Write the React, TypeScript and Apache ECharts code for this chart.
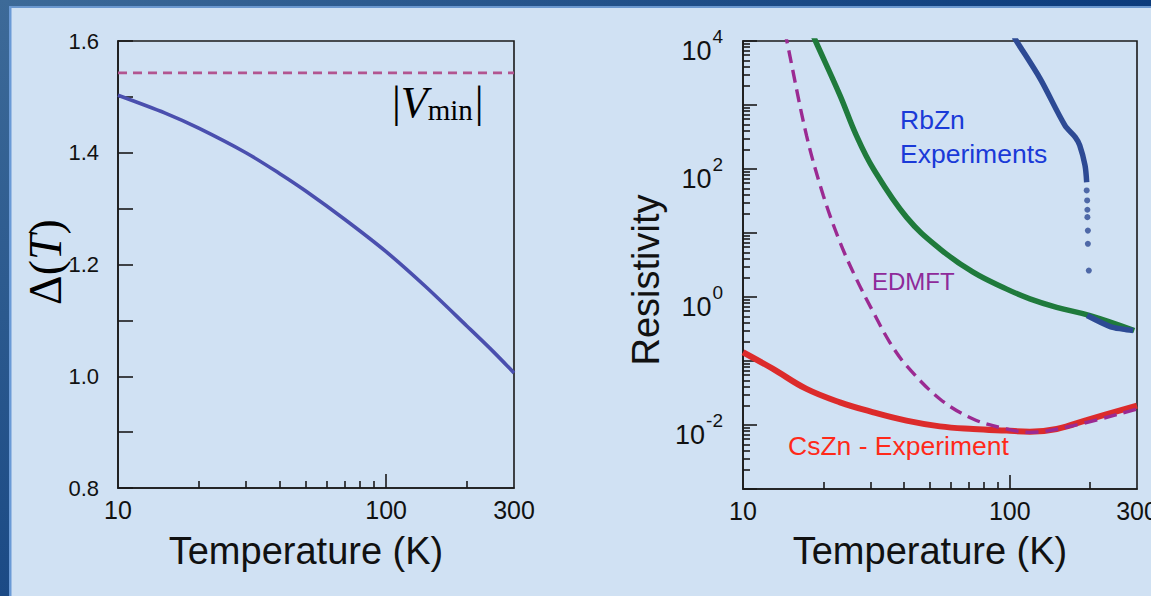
import React, { useEffect, useRef } from "react";
import * as echarts from "echarts";

// ---------- data ----------
// Left panel: gap Delta(T)
const gapT = [10, 15, 20, 30, 40, 50, 70, 100, 140, 200, 250, 300];
const gapDelta = [1.503, 1.471, 1.444, 1.4, 1.363, 1.332, 1.281, 1.223, 1.161, 1.09, 1.045, 1.006];
const vMinT = [10, 300];
const vMinValue = 1.543;

// Right panel: resistivity
const edmftT = [14.3, 14.6, 17.3, 20, 23.1, 26.6, 30.8, 35.5, 41, 54.7, 72.9, 97, 119, 173, 300];
const edmftR = [14500, 10000, 335, 38.6, 7.19, 1.92, 0.578, 0.196, 0.0847, 0.0255, 0.0124, 0.00867, 0.00767, 0.00977, 0.0178];

const rbGreenT = [18.4, 18.7, 23.1, 26.6, 30.8, 41, 54.7, 72.9, 97, 119, 150, 200, 293];
const rbGreenR = [11700, 10000, 1416, 335, 101, 17.7, 5.66, 2.44, 1.34, 0.936, 0.69, 0.513, 0.3];

const rbBlueT = [104, 106, 130, 161, 176, 183, 191.5, 194.3];
const rbBlueR = [11500, 10000, 2580, 481, 315, 234, 114, 62];
const rbBlueDotT = [194.3, 195.1, 195.5, 195.5, 196.3, 196.3, 197.9];
const rbBlueDotR = [46.2, 32.3, 23.1, 17.7, 10.9, 6.78, 2.59];
const rbBlueLowT = [195, 238, 265, 290];
const rbBlueLowR = [0.513, 0.345, 0.315, 0.299];

const csT = [10, 12.96, 17.3, 23.1, 30.8, 41, 54.7, 72.9, 97.2, 119, 150, 200, 300];
const csR = [0.137, 0.0752, 0.0366, 0.0226, 0.0158, 0.0117, 0.00952, 0.00867, 0.00817, 0.00787, 0.00867, 0.0124, 0.02];

// tick labels / positions
const leftXLabels = [10, 100, 300];
const leftYLabels = [0.8, 1.0, 1.2, 1.4, 1.6];
const xMajorTicks = [100];
const xMinorTicks = [20, 30, 40, 50, 60, 70, 80, 90, 200];
const rightYLabels = [0.01, 1, 100, 10000];
const rightYMajor = [0.001, 0.01, 0.1, 1, 10, 100, 1000, 10000];
const rightYMinor: number[] = [];
for (const d of [0.001, 0.01, 0.1, 1, 10, 100, 1000]) {
  for (const m of [2, 3, 4, 5, 6, 7, 8, 9]) rightYMinor.push(+(m * d).toPrecision(3));
}

const zip = (a: number[], b: number[]) => a.map((v, i) => [v, b[i]]);

const SANS = "'Liberation Sans', Arial, sans-serif";
const SERIF = "'Liberation Serif', 'Times New Roman', serif";
const INK = "#1a1a1a";
const BG = "#d0e1f3";

const lineStyle = { color: INK, width: 1.6 };

function majorX(grid: number) {
  return {
    gridIndex: grid,
    type: "log",
    logBase: 10,
    min: 10,
    max: 300,
    position: "bottom",
    axisLine: { show: true, onZero: false, lineStyle },
    axisTick: { show: true, inside: true, length: 14, customValues: xMajorTicks, lineStyle },
    axisLabel: {
      show: true,
      customValues: leftXLabels,
      formatter: (v: number) => String(Math.round(v)),
      margin: 9,
      fontSize: 25,
      fontFamily: SANS,
      color: "#111",
    },
    splitLine: { show: false },
    minorTick: { show: false },
  };
}
function minorX(grid: number) {
  return {
    gridIndex: grid,
    type: "log",
    logBase: 10,
    min: 10,
    max: 300,
    position: "bottom",
    axisLine: { show: false, onZero: false },
    axisTick: { show: true, inside: true, length: 7, customValues: xMinorTicks, lineStyle },
    axisLabel: { show: false },
    splitLine: { show: false },
  };
}

const option: any = {
  animation: false,
  backgroundColor: BG,
  grid: [
    { left: 118, top: 41, width: 396, height: 447, show: true, borderColor: INK, borderWidth: 1.6, backgroundColor: "transparent", containLabel: false, outerBoundsMode: "none" },
    { left: 743, top: 41, width: 394, height: 448, show: true, borderColor: INK, borderWidth: 1.6, backgroundColor: "transparent", containLabel: false, outerBoundsMode: "none" },
  ],
  xAxis: [majorX(0), minorX(0), majorX(1), minorX(1)],
  yAxis: [
    {
      gridIndex: 0,
      type: "value",
      position: "left",
      min: 0.8,
      max: 1.6,
      interval: 0.1,
      axisLine: { show: true, onZero: false, lineStyle },
      axisTick: { show: true, inside: true, length: 15, lineStyle },
      axisLabel: {
        customValues: leftYLabels,
        formatter: (v: number) => v.toFixed(1),
        margin: 19,
        fontSize: 22,
        fontFamily: SANS,
        color: "#111",
      },
      splitLine: { show: false },
    },
    {
      gridIndex: 1,
      type: "log",
      position: "left",
      logBase: 10,
      min: 0.001,
      max: 10000,
      axisLine: { show: true, onZero: false, lineStyle },
      axisTick: { show: true, inside: true, length: 14, customValues: rightYMajor, lineStyle },
      axisLabel: {
        customValues: rightYLabels,
        formatter: (v: number) => `{b|10}{s|${Math.round(Math.log10(v))}}`,
        margin: 20,
        padding: [9, 0, 0, 0],
        rich: {
          b: { fontSize: 27, verticalAlign: "bottom", fontFamily: SANS, color: "#111" },
          s: { fontSize: 19, verticalAlign: "top", padding: [0, 0, 18, 1], fontFamily: SANS, color: "#111" },
        },
      },
      splitLine: { show: false },
    },
    {
      gridIndex: 1,
      type: "log",
      position: "left",
      logBase: 10,
      min: 0.001,
      max: 10000,
      axisLine: { show: false, onZero: false },
      axisTick: { show: true, inside: true, length: 7, customValues: rightYMinor, lineStyle },
      axisLabel: { show: false },
      splitLine: { show: false },
    },
  ],
  series: [
    {
      type: "line",
      xAxisIndex: 0,
      yAxisIndex: 0,
      data: zip(vMinT, vMinT.map(() => vMinValue)),
      showSymbol: false,
      lineStyle: { color: "#b25590", width: 2.6, type: [9, 6] },
      z: 3,
    },
    {
      type: "line",
      xAxisIndex: 0,
      yAxisIndex: 0,
      data: zip(gapT, gapDelta),
      smooth: 0.3,
      showSymbol: false,
      lineStyle: { color: "#4a4fae", width: 3.6 },
      z: 4,
    },
    {
      type: "line",
      xAxisIndex: 2,
      yAxisIndex: 1,
      data: zip(csT, csR),
      smooth: 0.4,
      showSymbol: false,
      lineStyle: { color: "#dc2b2b", width: 6 },
      z: 3,
    },
    {
      type: "line",
      xAxisIndex: 2,
      yAxisIndex: 1,
      data: zip(rbGreenT, rbGreenR),
      smooth: 0.4,
      showSymbol: false,
      lineStyle: { color: "#1f7a3c", width: 5.5 },
      z: 3,
    },
    {
      type: "line",
      xAxisIndex: 2,
      yAxisIndex: 1,
      data: zip(rbBlueT, rbBlueR),
      smooth: 0.3,
      showSymbol: false,
      lineStyle: { color: "#2d4a94", width: 5.5 },
      z: 4,
    },
    {
      type: "line",
      xAxisIndex: 2,
      yAxisIndex: 1,
      data: zip(rbBlueLowT, rbBlueLowR),
      smooth: 0.3,
      showSymbol: false,
      lineStyle: { color: "#2d4a94", width: 5.5 },
      z: 4,
    },
    {
      type: "scatter",
      xAxisIndex: 2,
      yAxisIndex: 1,
      data: zip(rbBlueDotT, rbBlueDotR),
      symbolSize: 6,
      itemStyle: { color: "#2d4a94" },
      z: 4,
    },
    {
      type: "line",
      xAxisIndex: 2,
      yAxisIndex: 1,
      data: zip(edmftT, edmftR),
      smooth: 0.35,
      showSymbol: false,
      lineStyle: { color: "#9b2a92", width: 3.4, type: [13, 7] },
      z: 5,
    },
  ],
  graphic: [
    {
      type: "rect",
      shape: { x: 0, y: 0, width: 1151, height: 6 },
      style: { fill: new echarts.graphic.LinearGradient(0, 0, 1, 0, [
        { offset: 0, color: "#3d6a98" },
        { offset: 1, color: "#0b3b7c" },
      ]) },
      z: 10,
    },
    { type: "rect", shape: { x: 9, y: 6, width: 1142, height: 2 }, style: { fill: "#6b98cf" }, z: 10 },
    {
      type: "rect",
      shape: { x: 0, y: 0, width: 9, height: 596 },
      style: { fill: new echarts.graphic.LinearGradient(0, 0, 0, 1, [
        { offset: 0, color: "#3d6a98" },
        { offset: 1, color: "#1b4a85" },
      ]) },
      z: 10,
    },
    { type: "rect", shape: { x: 9, y: 6, width: 2.5, height: 590 }, style: { fill: "#6a9ad6" }, z: 10 },
    // axis titles
    {
      type: "text",
      x: 306,
      y: 551,
      style: { text: "Temperature (K)", font: `38px ${SANS}`, fill: "#111", textAlign: "center", textVerticalAlign: "middle" },
      z: 10,
    },
    {
      type: "text",
      x: 930,
      y: 551,
      style: { text: "Temperature (K)", font: `38px ${SANS}`, fill: "#111", textAlign: "center", textVerticalAlign: "middle" },
      z: 10,
    },
    {
      type: "text",
      x: 646,
      y: 280,
      rotation: Math.PI / 2,
      style: { text: "Resistivity", font: `38px ${SANS}`, fill: "#111", textAlign: "center", textVerticalAlign: "middle" },
      z: 10,
    },
    {
      type: "text",
      x: 45,
      y: 262,
      rotation: Math.PI / 2,
      style: {
        text: "{u|Δ(}{i|T}{u|)}",
        textAlign: "center",
        textVerticalAlign: "middle",
        rich: {
          u: { fontSize: 46, fontFamily: SERIF, color: "#111" },
          i: { fontSize: 46, fontFamily: SERIF, fontStyle: "italic", color: "#111" },
        },
      },
      z: 10,
    },
    // annotations
    {
      type: "text",
      x: 392,
      y: 102,
      style: {
        text: "{b||}{v|V}{m|min}{b||}",
        textAlign: "left",
        textVerticalAlign: "middle",
        rich: {
          b: { fontSize: 44, fontFamily: SERIF, color: "#8b3a8b", verticalAlign: "bottom" },
          v: { fontSize: 44, fontFamily: SERIF, fontStyle: "italic", color: "#8b3a8b", verticalAlign: "bottom" },
          m: { fontSize: 29, fontFamily: SERIF, color: "#8b3a8b", verticalAlign: "bottom", padding: [0, 2, 0, 0] },
        },
      },
      z: 10,
    },
    {
      type: "text",
      x: 900,
      y: 120,
      style: { text: "RbZn", font: `26.5px ${SANS}`, fill: "#1a3ad8", textAlign: "left", textVerticalAlign: "middle" },
      z: 10,
    },
    {
      type: "text",
      x: 900,
      y: 154,
      style: { text: "Experiments", font: `26.5px ${SANS}`, fill: "#1a3ad8", textAlign: "left", textVerticalAlign: "middle" },
      z: 10,
    },
    {
      type: "text",
      x: 872,
      y: 281,
      style: { text: "EDMFT", font: `24px ${SANS}`, fill: "#8e2a9a", textAlign: "left", textVerticalAlign: "middle" },
      z: 10,
    },
    {
      type: "text",
      x: 788,
      y: 446,
      style: { text: "CsZn - Experiment", font: `26.5px ${SANS}`, fill: "#ff2a1a", textAlign: "left", textVerticalAlign: "middle" },
      z: 10,
    },
  ],
};

export default function App() {
  const ref = useRef<HTMLDivElement>(null);
  useEffect(() => {
    if (!ref.current) return;
    const chart = echarts.init(ref.current, null, { renderer: "svg" });
    chart.setOption(option);
    return () => chart.dispose();
  }, []);
  return (
    <div
      ref={ref}
      style={{ position: "fixed", left: 0, top: 0, width: 1151, height: 596, background: BG }}
    />
  );
}
